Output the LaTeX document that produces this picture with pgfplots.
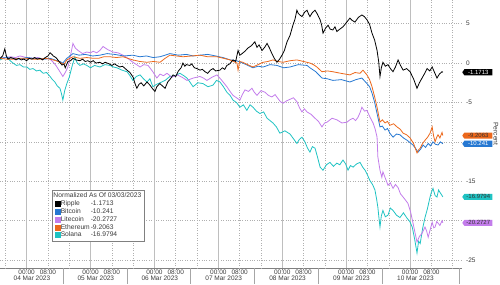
\documentclass[border=0pt]{standalone}
\usepackage{fontspec}
\setmainfont{Liberation Sans}
\usepackage{pgfplots}
\pgfplotsset{compat=1.18}
\usetikzlibrary{shapes.symbols}
\definecolor{cripple}{RGB}{0,0,0}
\definecolor{cbtc}{RGB}{38,120,210}
\definecolor{cltc}{RGB}{195,125,235}
\definecolor{ceth}{RGB}{236,104,28}
\definecolor{csol}{RGB}{32,195,195}
\definecolor{gridc}{RGB}{190,190,190}
\definecolor{gridd}{RGB}{175,175,175}
\definecolor{txt}{RGB}{60,60,60}
\begin{document}
\begin{tikzpicture}
\useasboundingbox (0,-16pt) rectangle (500pt,268pt);
\begin{axis}[
  width=462pt, height=268pt, scale only axis,
  xmin=-10, xmax=163.5, ymin=-26, ymax=8,
  clip=false,
  axis x line*=bottom, axis y line*=right,
  y axis line style={draw=none},
  x axis line style={draw=gray, -},
  ytick={5,0,-5,-10,-15,-20,-25},
  yticklabels={5,0,-5,,-15,,-25},
  ymajorgrids, major grid style={dotted, gridd, line width=0.5pt},
  ytick style={draw=none},
  yticklabel style={font=\fontsize{6.5}{7}\selectfont, text=txt, anchor=west, inner sep=0pt, xshift=2.5pt},
  /pgf/number format/assume math mode=true,
  xtick={0,8,24,32,48,56,72,80,96,104,120,128,144,152},
  xticklabels={00:00,08:00,00:00,08:00,00:00,08:00,00:00,08:00,00:00,08:00,00:00,08:00,00:00,08:00},
  xtick style={draw=gray, line width=0.4pt},
  tick align=outside, major tick length=1.5pt,
  xticklabel style={font=\fontsize{6.5}{7}\selectfont, text=txt, inner sep=0.5pt},
  extra x ticks={2,26,50,74,98,122,146},
  extra x tick labels={04 Mar 2023,05 Mar 2023,06 Mar 2023,07 Mar 2023,08 Mar 2023,09 Mar 2023,10 Mar 2023},
  extra x tick style={major tick length=0pt, xticklabel style={yshift=-7.3pt}},
  legend cell align=left,
  legend style={at={(rel axis cs:0.1126,0.291)}, anchor=north west,
    draw=gray, fill=white, line width=0.5pt,
    font=\fontsize{6.7}{7}\selectfont, text=txt,
    inner sep=2.5pt, row sep=1pt, column sep=0pt,
    nodes={inner sep=0.5pt, text height=4.6pt, text depth=1.2pt}},
]
% vertical grid lines
\pgfplotsinvokeforeach{0,24,48,72,96,120,144}{
  \draw[gridc, line width=0.5pt] (axis cs:#1,-26) -- (axis cs:#1,8);}
\pgfplotsinvokeforeach{-8,8,16,32,40,56,64,80,88,104,112,128,136,152,160}{
  \draw[gridd, dotted, line width=0.5pt] (axis cs:#1,-26) -- (axis cs:#1,8);}
% day separators in label band
\pgfplotsinvokeforeach{13.6,37.6,61.6,85.6,109.6,133.6,162.5}{
  \draw[gray!70, line width=0.5pt] (axis cs:#1,-26) -- (axis cs:#1,-28.03);}

\addplot[csol, line width=0.8pt, forget plot] coordinates {
(-10,0.4) (-8.7,0.6) (-7.4,0.8) (-6.2,0.3) (-5.1,0) (-3.8,-0.3) (-2.5,-0.2) (-1.2,-0.5) (0.1,-0.5) (1.2,-0.8) (2.4,-0.7) (3.7,-1.0) (5,-0.9) (6.2,-1.3) (7.5,-1.2) (8.8,-1.7) (9.7,-2.1) (10.6,-2.4) (11.5,-2.9) (12.5,-3.2) (13.1,-3.9) (13.6,-4.7) (14.3,-3.5) (15.1,-2.6) (16,-1.8) (17,-0.5) (17.6,0.2) (18.1,0.8) (19,0.0) (20,-0.3) (21.3,-0.1) (22.6,-0.3) (24,-0.6) (25.5,-0.3) (27.5,-0.5) (29.4,-0.2) (31.3,-0.3) (32.6,-0.5) (33.9,-0.6) (35.8,-0.9) (37.7,-1.1) (38.8,-1.6) (39.9,-2.2) (41.2,-1.7) (42.6,-1.5) (43.9,-2.0) (45.2,-2.4) (46.3,-2.0) (47.4,-3.0) (48.8,-2.7) (50.1,-2.5) (52,-2.2) (53.8,-1.7) (55.7,-1.6) (57.6,-1.3) (59,-1.6) (60.2,-1.9) (61.3,-2.4) (62.5,-3.0) (64.3,-2.5) (66.2,-2.6) (68.1,-3.0) (70,-2.8) (71.3,-2.2) (72.6,-2.4) (73.9,-3.0) (75.2,-3.7) (76.4,-4.1) (77.5,-4.7) (78.8,-5.0) (80.1,-5.6) (81.4,-5.3) (82.7,-6.0) (83.9,-5.3) (85,-5.6) (86.3,-6.1) (87.6,-6.4) (89,-6.2) (90.3,-7.0) (91.4,-7.3) (92.5,-7.6) (93.8,-8.1) (95.1,-8.9) (97,-8.6) (98.9,-9.0) (100.2,-9.6) (101.5,-10.2) (102.4,-9.7) (103.4,-9.4) (104.5,-10) (105.5,-10.8) (106.4,-11.3) (107.3,-10.6) (108.3,-10.8) (109.3,-12.0) (110.2,-13.2) (111.3,-13.6) (112.6,-12.9) (113.9,-12.6) (115.2,-13.1) (116.5,-12.7) (117.6,-12.9) (118.8,-12.3) (119.8,-12.8) (120.7,-13.6) (121.6,-13.0) (122.6,-13.2) (123.9,-12.8) (125.2,-12.6) (126.2,-13.2) (127.1,-13.6) (128,-14.2) (128.9,-14.9) (129.9,-15.4) (130.8,-16.1) (131.4,-17.2) (131.9,-18.3) (132.3,-19.6) (132.7,-20.8) (133.2,-19.4) (133.8,-18.7) (134.7,-19.5) (135.7,-19.3) (136.6,-18.4) (137.6,-18.7) (138.9,-19.3) (140.2,-19.6) (141.5,-19.0) (142.9,-19.7) (143.9,-20.1) (144.8,-20.8) (145.7,-22.3) (146.6,-24.1) (147.2,-22.6) (147.8,-22.9) (148.7,-21.0) (149.6,-19.6) (150.5,-18.5) (151.5,-17) (152,-16.4) (152.6,-15.9) (153.4,-16.8) (154.1,-17) (154.7,-16.1) (155.2,-16.4) (155.8,-16.7) (156.3,-16.9794)
};
\addplot[cltc, line width=0.8pt, forget plot] coordinates {
(-10,0.6) (-8,0.7) (-6,0.8) (-4.2,0.7) (-2.5,0.9) (0,0.7) (2.4,0.6) (4.2,0.7) (6,0.5) (7.4,0.6) (8.8,0.5) (10,0.1) (11,-0.3) (12.5,-1.1) (13.6,-1.7) (14.5,-1.2) (15.5,-0.5) (16.5,1.0) (17.4,2.5) (18.3,1.9) (19.3,1.6) (21,1.2) (22.6,1.4) (24,1.3) (25,1.5) (26.3,1.3) (27.5,1.6) (28.7,2.1) (30.5,1.7) (32.4,1.4) (34.3,1.3) (36.2,1.0) (38,0.6) (39.9,0.1) (41.3,-0.2) (42.6,-0.5) (44,-0.2) (45.6,-0.3) (46.5,-0.7) (47.4,-1.1) (48.9,-1.9) (50.1,-1.4) (51.4,-1.6) (52.7,-1.3) (54.6,-1.8) (56.5,-1.5) (58.4,-1.8) (60.2,-2.2) (62.6,-1.9) (65.1,-1.7) (66.4,-1.9) (67.7,-2.2) (69.6,-1.8) (71.5,-1.5) (73.3,-2.2) (75.2,-3.0) (76.4,-3.6) (77.5,-4.1) (78.8,-4.4) (80.1,-4.7) (81,-4.0) (82,-3.4) (83.3,-3.6) (84.6,-3.2) (85.5,-3.7) (86.5,-4.1) (88,-3.5) (89.5,-3.7) (90.8,-4.1) (92.1,-4.3) (93.3,-4.0) (94.4,-4.5) (95.3,-4.9) (96.3,-5.1) (97.6,-4.8) (98.9,-4.6) (100.2,-4.4) (101.5,-4.9) (102.5,-5.7) (103.4,-6.2) (104.3,-5.8) (105.3,-6.2) (106.8,-6.5) (108.3,-7.0) (109.6,-7.4) (110.9,-8.1) (111.9,-7.6) (112.8,-7.5) (114.7,-7.0) (116.5,-7.2) (118.4,-7.6) (120.3,-7.5) (121.4,-7.2) (122.6,-7.0) (123.5,-7.3) (124.4,-6.9) (125.2,-6.3) (125.9,-5.6) (126.9,-6.1) (127.8,-6.0) (129,-6.9) (130.1,-7.6) (130.9,-8.4) (131.6,-9.4) (131.9,-11.9) (132.7,-13.6) (133.4,-14.5) (133.8,-13.8) (134.7,-14.6) (135.7,-15.5) (136.6,-15.2) (137.6,-15.9) (138.5,-15.4) (139.5,-15.8) (140.4,-16.6) (141.4,-17) (142.3,-17.4) (143.2,-17.8) (144.2,-18.9) (145.1,-20.3) (145.9,-21.6) (146.6,-22.7) (147.5,-22.0) (148.5,-21.6) (149.6,-20.8) (150.2,-21.3) (150.8,-22.1) (151.5,-21.2) (152.3,-20.2) (152.9,-20.9) (153.4,-20.8) (154,-20.1) (154.5,-20.3) (155.2,-20.6) (156,-20) (156.3,-20.2727)
};
\addplot[cbtc, line width=0.8pt, forget plot] coordinates {
(-10,0.6) (-7.5,0.7) (-5,0.6) (-2.5,0.5) (0,0.7) (2.5,0.6) (5,0.6) (7,0.5) (8.8,0.6) (10.6,0.4) (12.5,0.2) (13.6,0.0) (15.1,0.6) (16.3,0.9) (17.4,1.2) (19.7,1.0) (22,1.1) (24.8,0.9) (27.5,1.0) (30.2,1.2) (33,1.1) (36.5,0.9) (39.9,1.0) (42.5,0.8) (45,0.9) (47.5,0.7) (50.1,0.8) (52,1.0) (53.8,1.2) (57,1.0) (60,1.1) (62.5,0.9) (65.1,1.0) (68,1.1) (71,0.9) (73.7,0.7) (76.4,0.4) (78.8,0.3) (81.2,0) (83.1,-0.3) (85,-0.6) (86.9,-0.4) (88.8,-0.5) (91.4,-0.2) (94,-0.3) (96.5,-0.6) (98.9,-0.5) (102,-0.2) (105.3,-0.3) (106.4,-0.6) (108.6,-1.1) (110.9,-1.9) (113,-2.0) (115,-2.2) (118.2,-2.1) (121.4,-2.4) (123.7,-2.1) (125.9,-1.9) (127.8,-2.6) (128.8,-3.0) (129.7,-3.8) (130.7,-5.0) (131.6,-6.4) (132.7,-8.1) (133.6,-8.0) (134.6,-8.5) (135.5,-8.3) (136.4,-8.9) (137.6,-9.4) (138.9,-9.0) (140.2,-9.1) (141.5,-9.5) (142.9,-9.8) (144,-10.1) (145.1,-10.4) (146,-10.8) (147,-11.3) (148,-10.9) (148.9,-10.4) (149.8,-10.7) (150.8,-10.2) (151.7,-10.5) (152.6,-10) (153.5,-10.3) (154.5,-10.4) (155.4,-10.0) (156.3,-10.241)
};
\addplot[ceth, line width=0.8pt, forget plot] coordinates {
(-10,0.6) (-7.5,0.5) (-5,0.5) (-2.5,0.6) (0,0.6) (2.5,0.5) (5,0.5) (7,0.6) (8.8,0.5) (11,0.3) (12.5,0.1) (14,-0.2) (15.1,0.4) (17.4,0.8) (20,0.6) (22.6,0.7) (25,0.6) (27,0.6) (29,0.8) (31.3,0.8) (33.8,0.7) (36.2,0.8) (38,0.6) (39.9,0.4) (42.5,0.2) (45.2,0.1) (47.6,0.2) (50.1,0.1) (52,0.6) (53.8,1.0) (56.3,0.9) (58.7,0.8) (62,0.9) (65.1,1.0) (68,0.8) (71.5,0.8) (74,0.6) (76.4,0.4) (79,0) (79.4,-0.9) (80,0.2) (81.2,0.1) (83,-0.2) (85,-0.5) (86.9,-0.2) (88.8,0.1) (90.6,0.2) (92.5,0.4) (94.4,0.2) (96.3,0.1) (99,0.3) (101.5,0.4) (104,0.2) (106.4,0) (107.7,-0.2) (109,-0.5) (110.9,-1.1) (113,-1.0) (115,-1.1) (118,-1.3) (121.4,-1.5) (123.3,-1.2) (125.2,-1.3) (126.3,-0.9) (127.8,-1.5) (128.8,-2.1) (129.7,-3.0) (130.7,-4.3) (131.6,-5.6) (132.7,-7.5) (133.6,-7.2) (134.6,-7.6) (135.5,-7.4) (136.4,-7.9) (137.8,-7.7) (139.1,-8.1) (140.3,-8.4) (141.4,-8.9) (142.7,-9.1) (144,-9.5) (145.3,-10.2) (146.6,-11.4) (147.2,-11.0) (147.8,-10.8) (148.7,-10.2) (149.6,-9.8) (150.6,-9.4) (151.5,-8.9) (152.3,-8.1) (152.8,-9.2) (153.4,-10) (154,-9.4) (154.5,-9.1) (155.2,-9.5) (156,-8.8) (156.3,-9.2063)
};
\addplot[cripple, line width=0.8pt, forget plot] coordinates {
(-10,0.6) (-9,0.9) (-8.2,1.8) (-7.6,0.9) (-7,0.5) (-6,0.7) (-5,0.6) (-4,0.4) (-3,0.6) (-2,0.4) (-1,0.5) (0,0.3) (1,0.6) (2,0.5) (3,0.7) (4,0.5) (5,0.6) (6,0.4) (7,0.7) (8,0.9) (8.8,1.3) (9.5,1.1) (10,0.9) (11,0.7) (11.5,0.5) (12.4,0.1) (13.3,-0.25) (14,-0.1) (14.5,-0.6) (15.5,0.2) (16.5,0.3) (17.4,0.6) (18.5,0.4) (20,0.3) (21,0.5) (22,0.2) (23,0.3) (24,0.1) (25,0.3) (26,0.0) (27.5,0.1) (28.5,-0.1) (29.5,0.1) (31,-0.1) (32,-0.3) (33,-0.1) (33.9,-0.3) (35,-0.5) (36,-0.4) (37.7,-0.9) (38.8,-1.2) (40,-1.8) (40.7,-2.6) (41.4,-3.2) (42.2,-2.7) (43,-2.5) (44,-2.9) (45.2,-2.4) (46.3,-2.8) (47.4,-3.3) (48.2,-3.6) (48.9,-3.0) (50,-2.6) (51,-2.9) (52,-3.2) (53,-2.4) (54,-2.0) (55,-1.5) (56,-1.7) (57,-1.0) (58,-0.6) (58.7,0) (59.4,-0.4) (60,-0.2) (61.3,-0.3) (62,-0.1) (63,-0.6) (64,-0.7) (65.1,-0.9) (66,-0.8) (67,-1.1) (68,-1.3) (69,-0.9) (70,-0.7) (71,-1.0) (72.6,-0.9) (73.5,-0.6) (74.4,-0.8) (75.2,-0.3) (76.3,-0.1) (77.5,0.4) (78.5,0.2) (79.4,1.6) (80.1,1.0) (80.9,1.2) (82,1.5) (83.1,1.9) (84.4,2.2) (85.7,2.7) (86.5,2.0) (87.3,2.3) (88.4,1.6) (89.4,2.0) (90.3,2.5) (91.2,1.9) (92.1,1.2) (93,0.6) (94,0.1) (95,0.5) (95.9,1.0) (96.8,1.6) (97.8,2.7) (98.9,3.5) (100,4.8) (100.8,5.6) (101.5,6.7) (102,6.3) (102.6,6.1) (103.4,5.9) (104.5,6.5) (105.3,6.7) (105.9,6.2) (106.4,5.9) (107.3,6.4) (108.3,6.7) (109.2,6.2) (110.2,5.5) (110.8,4.8) (111.3,3.8) (112.2,4.4) (113.2,4.8) (114,4.3) (115,4.2) (115.8,4.6) (116.5,4.0) (117.6,4.3) (118.8,4.6) (120,5.1) (121.4,5.7) (122.3,5.4) (123.3,5.2) (124.6,5.8) (125.9,6.1) (126.8,5.9) (127.8,5.5) (128.8,4.9) (129.7,3.8) (130.7,2.9) (131.6,1.6) (132.2,0.2) (132.7,-1.7) (133.2,-0.6) (133.8,0.1) (134.7,-0.4) (135.7,-0.2) (136.6,-0.7) (137.6,-1.1) (138.5,-0.5) (139.5,0.4) (140.4,-0.3) (141.4,-0.9) (142.7,-0.7) (144,-1.1) (145.3,-2.0) (146.6,-3.2) (147.5,-2.5) (148.5,-1.9) (149.5,-1.3) (150.4,-0.7) (151.4,-1.0) (152.3,-0.5) (153.2,-1.2) (154.1,-1.9) (155,-1.4) (156,-1.1) (156.3,-1.1713)
};

% legend
\addlegendimage{empty legend}
\addlegendentry{\hspace*{-7.3pt}Normalized As Of 03/03/2023}
\addlegendimage{legend image code/.code={\fill[cripple] (0pt,-2.5pt) rectangle (5pt,2.5pt);}}
\addlegendentry{\makebox[30pt][l]{Ripple}-1.1713}
\addlegendimage{legend image code/.code={\fill[cbtc] (0pt,-2.5pt) rectangle (5pt,2.5pt);}}
\addlegendentry{\makebox[30pt][l]{Bitcoin}-10.241}
\addlegendimage{legend image code/.code={\fill[cltc] (0pt,-2.5pt) rectangle (5pt,2.5pt);}}
\addlegendentry{\makebox[30pt][l]{Litecoin}-20.2727}
\addlegendimage{legend image code/.code={\fill[ceth] (0pt,-2.5pt) rectangle (5pt,2.5pt);}}
\addlegendentry{\makebox[30pt][l]{Ethereum}-9.2063}
\addlegendimage{legend image code/.code={\fill[csol] (0pt,-2.5pt) rectangle (5pt,2.5pt);}}
\addlegendentry{\makebox[30pt][l]{Solana}-16.9794}

% last-value tags
\tikzset{tag/.style={signal, signal to=west, signal pointer angle=110, anchor=west,
  inner xsep=1pt, inner ysep=0.6pt, font=\fontsize{6}{6}\selectfont,
  text height=4.3pt, text depth=0.6pt, minimum width=30pt}}
\node[tag, fill=cripple, text=white] at (axis cs:163.5,-1.1713) {-1.1713};
\node[tag, fill=ceth, text=black!80] at (axis cs:163.5,-9.2063) {-9.2063};
\node[tag, fill=cbtc, text=white] at (axis cs:163.5,-10.241) {-10.241};
\node[tag, fill=csol, text=black!80] at (axis cs:163.5,-16.9794) {-16.9794};
\node[tag, fill=cltc, text=black!80] at (axis cs:163.5,-20.2727) {-20.2727};
\node[rotate=-90, font=\fontsize{6.7}{7}\selectfont, text=txt, anchor=center] at ([xshift=34pt]rel axis cs:1,0.5) {Percent};
\end{axis}
\end{tikzpicture}
\end{document}
